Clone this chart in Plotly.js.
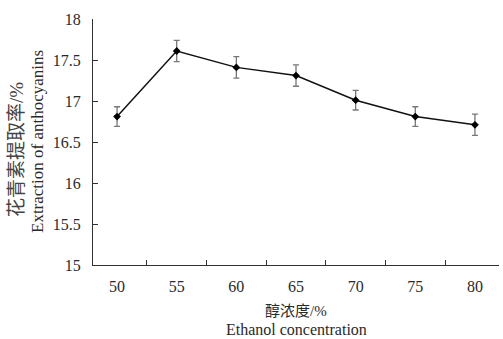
<!DOCTYPE html>
<html>
<head>
<meta charset="utf-8">
<script src="https://cdn.plot.ly/plotly-3.0.1.min.js"></script>
<style>html,body{margin:0;padding:0;background:#fff;}</style>
</head>
<body>
<div id="chart" style="width:503px;height:339px;"></div>
<script>
const categories = ["50", "55", "60", "65", "70", "75", "80"];
const extraction = [16.81, 17.61, 17.41, 17.31, 17.01, 16.81, 16.71];
const errors = [0.12, 0.13, 0.13, 0.13, 0.12, 0.12, 0.13];
const yTicks = [15, 15.5, 16, 16.5, 17, 17.5, 18];
const xTitleZh = "醇浓度/%";
const xTitleEn = "Ethanol concentration";
const yTitleZh = "花青素提取率/%";
const yTitleEn = "Extraction of anthocyanins";

const font = "Liberation Serif, 'Noto Sans CJK SC', serif";
const txt = "#2a2a2a";

Plotly.newPlot("chart", [{
  type: "scatter",
  mode: "lines+markers",
  x: categories,
  y: extraction,
  line: {color: "#111", width: 1.5},
  marker: {symbol: "diamond", size: 6, color: "#000"},
  error_y: {type: "data", array: errors, visible: true, color: "#777", thickness: 1.3, width: 3}
}, {
  type: "scatter", mode: "lines", x: [], y: [], yaxis: "y2", showlegend: false, hoverinfo: "skip"
}], {
  width: 503, height: 339,
  margin: {l: 93, r: 4, t: 19, b: 74},
  paper_bgcolor: "#fff", plot_bgcolor: "#fff",
  showlegend: false,
  font: {family: font, size: 16, color: txt},
  xaxis: {
    type: "category",
    tickson: "boundaries",
    ticks: "inside", ticklen: 5, tickcolor: "#333", tickwidth: 1,
    showline: true, linecolor: "#333", linewidth: 1,
    showgrid: false, zeroline: false,
    ticklabelstandoff: 7,
    tickfont: {family: font, size: 16, color: txt}
  },
  yaxis: {
    range: [15, 18],
    tickvals: yTicks,
    ticktext: yTicks.map(String),
    ticks: "outside", ticklen: 8, tickcolor: "rgba(0,0,0,0)", tickwidth: 1,
    showline: true, linecolor: "#333", linewidth: 1,
    showgrid: false, zeroline: false,
    tickfont: {family: font, size: 16, color: txt}
  },
  yaxis2: {
    overlaying: "y", side: "left",
    range: [15, 18],
    tickvals: yTicks,
    ticks: "inside", ticklen: 5, tickcolor: "#333", tickwidth: 1,
    showticklabels: false, showline: false,
    showgrid: false, zeroline: false
  },
  annotations: [
    {text: xTitleZh, xref: "paper", yref: "paper", x: 0.5, y: 0, xanchor: "center", yanchor: "middle",
     yshift: -46, showarrow: false, font: {family: font, size: 15, color: txt}},
    {text: xTitleEn, xref: "paper", yref: "paper", x: 0.5, y: 0, xanchor: "center", yanchor: "middle",
     yshift: -64, showarrow: false, font: {family: font, size: 16, color: txt}},
    {text: yTitleZh, xref: "paper", yref: "paper", x: 0, y: 0.4675, xanchor: "center", yanchor: "middle",
     xshift: -76, textangle: -90, showarrow: false, font: {family: font, size: 19, color: "#444"}},
    {text: yTitleEn, xref: "paper", yref: "paper", x: 0, y: 0.5, xanchor: "center", yanchor: "middle",
     xshift: -56, textangle: -90, showarrow: false, font: {family: font, size: 17, color: txt}}
  ]
}, {staticPlot: true});
</script>
</body>
</html>
